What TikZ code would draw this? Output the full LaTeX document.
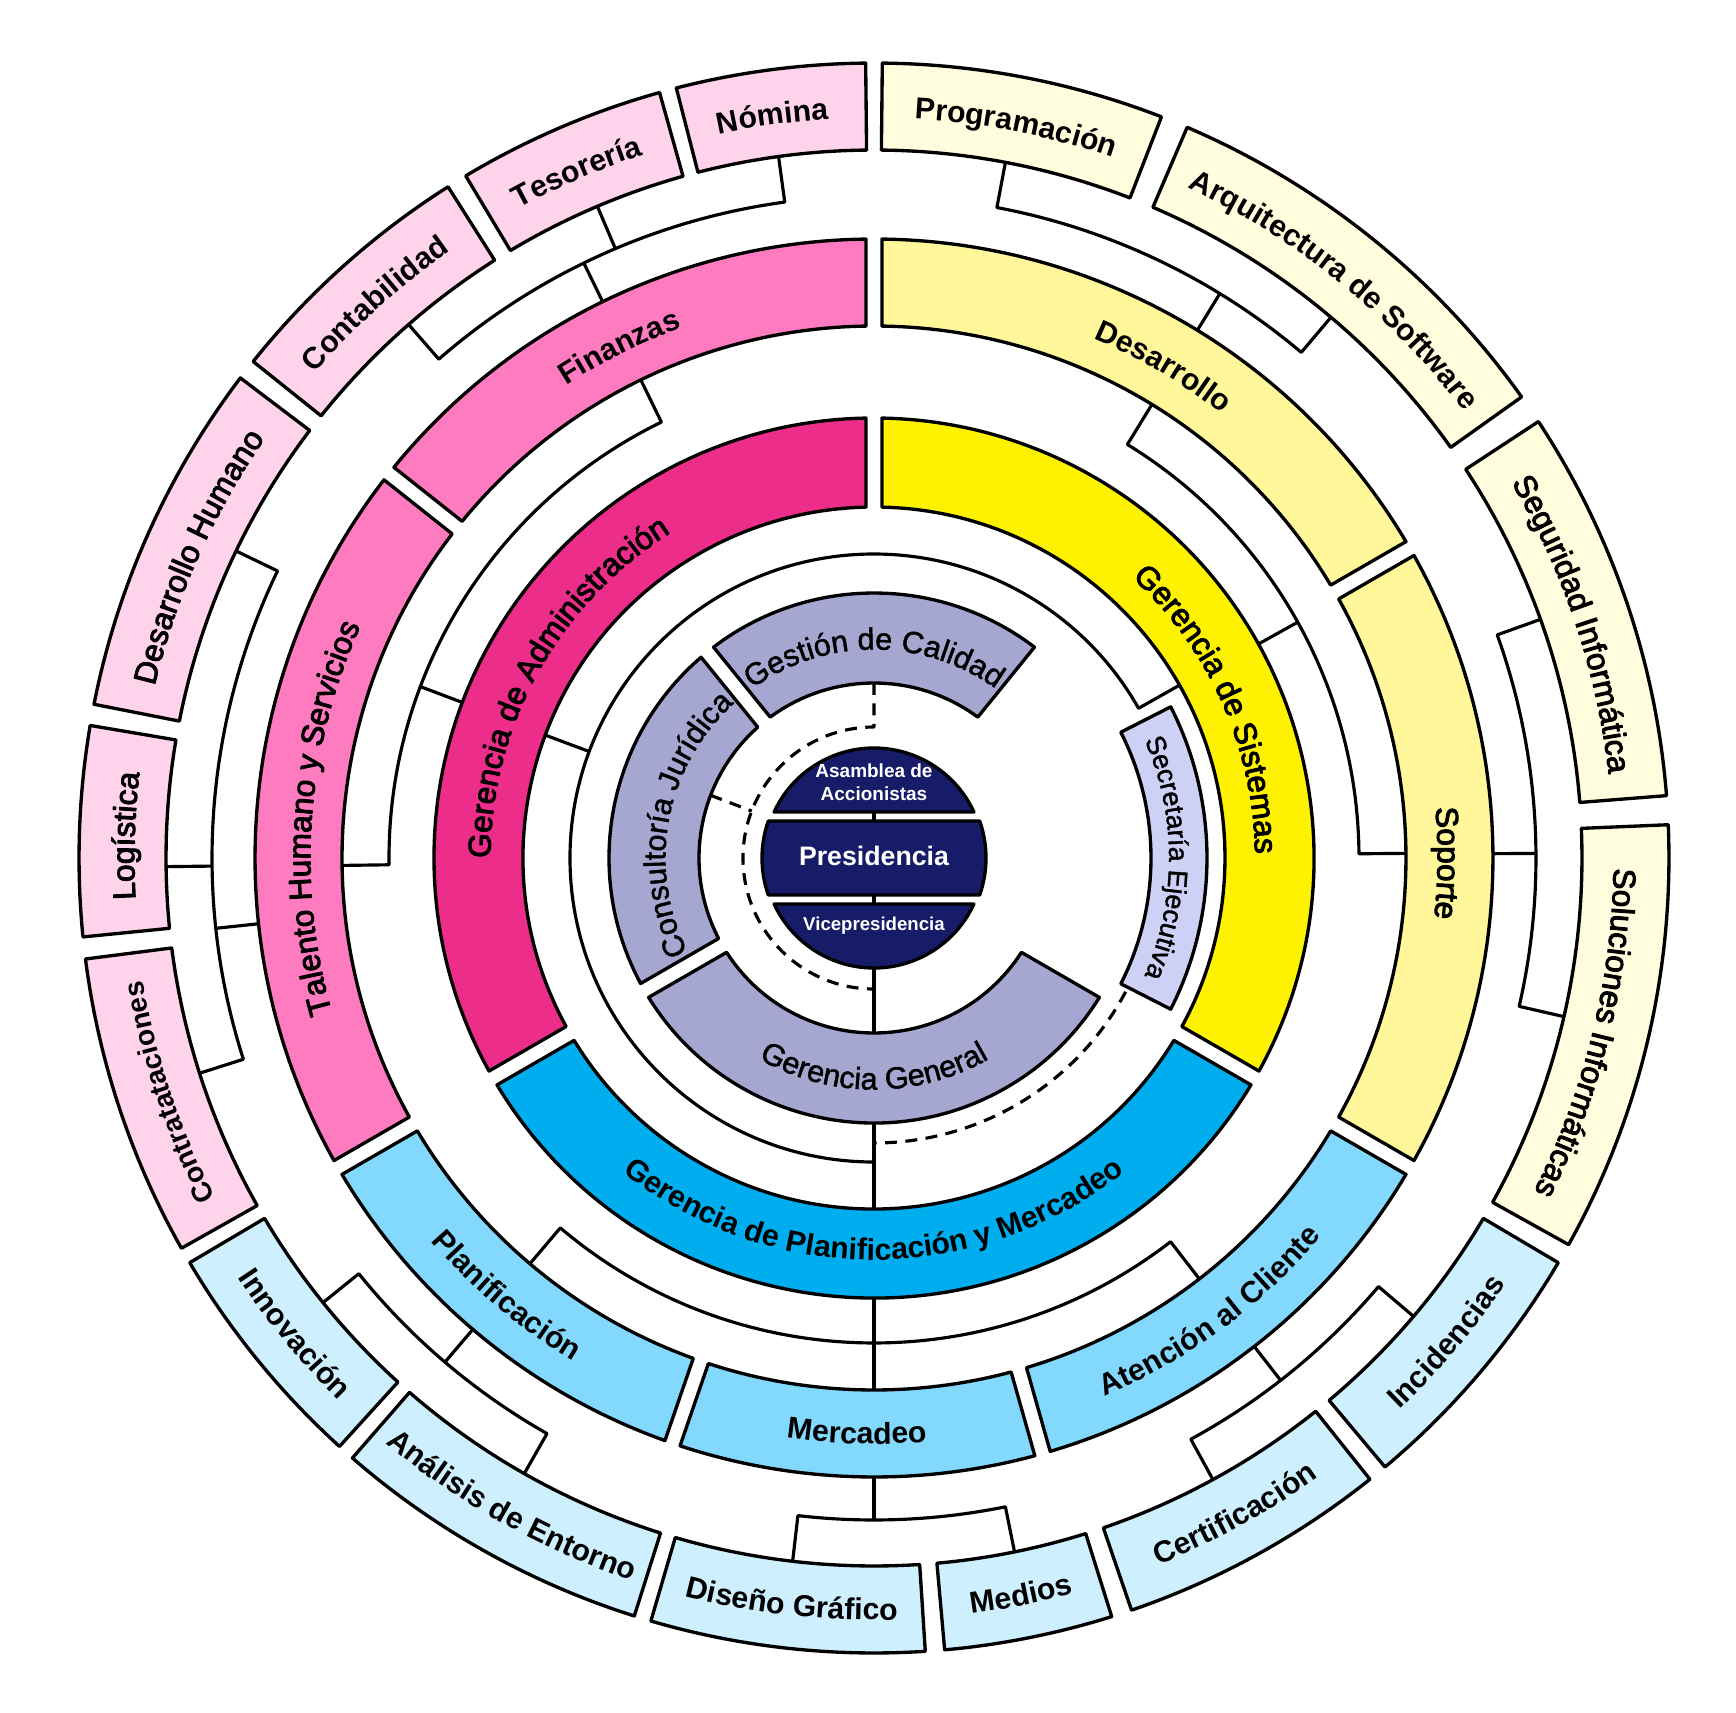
\documentclass[tikz,border=0pt]{standalone}
\usepackage{fontspec}
\setmainfont{Liberation Sans}
\newfontfamily\medfam[FakeBold=3]{Liberation Sans}
\newfontfamily\bookfam[FakeBold=1.5]{Liberation Sans}
\usetikzlibrary{decorations.text}

\definecolor{navy}{RGB}{22,28,104}
\definecolor{ringgray}{RGB}{165,167,208}
\definecolor{lavender}{RGB}{205,209,246}
\definecolor{admin}{RGB}{236,45,138}
\definecolor{sistemas}{RGB}{255,242,0}
\definecolor{planif}{RGB}{0,174,239}
\definecolor{pinkmid}{RGB}{255,123,192}
\definecolor{yellowmid}{RGB}{255,247,153}
\definecolor{cyanmid}{RGB}{130,217,253}
\definecolor{pinklight}{RGB}{255,211,234}
\definecolor{yellowlight}{RGB}{255,253,222}
\definecolor{cyanlight}{RGB}{205,239,254}

% label fonts
\newcommand\labR{\bookfam\fontsize{8.7pt}{11pt}\selectfont}
\newcommand\labM{\medfam\fontsize{9pt}{11pt}\selectfont}
\newcommand\labB{\fontsize{8.6pt}{10pt}\selectfont\bfseries}
\newcommand\labS{\bookfam\fontsize{7.7pt}{9pt}\selectfont}
\newcommand\labC{\fontsize{8pt}{9.5pt}\selectfont\bfseries}

% annular segment: [style]{inner r}{outer r}{start angle}{end angle}{half gap}
\newcommand\ringseg[6][]{%
  \pgfmathsetmacro\segAi{#4+asin(#6/#2)}%
  \pgfmathsetmacro\segAo{#4+asin(#6/#3)}%
  \pgfmathsetmacro\segBi{#5-asin(#6/#2)}%
  \pgfmathsetmacro\segBo{#5-asin(#6/#3)}%
  \draw[box,#1] (\segAi:#2) -- (\segAo:#3)
    arc[start angle=\segAo,end angle=\segBo,radius=#3]
    -- (\segBi:#2) arc[start angle=\segBi,end angle=\segAi,radius=#2] -- cycle;}

% curved labels: {font}{centre angle}{baseline radius}{text}
\newcommand\cwtext[4]{\path[decorate,decoration={text along path,text={|#1|#4},text align=center}]
  (#2+80:#3) arc[start angle=#2+80,end angle=#2-80,radius=#3];}
\newcommand\ccwtext[4]{\path[decorate,decoration={text along path,text={|#1|#4},text align=center}]
  (#2-80:#3) arc[start angle=#2-80,end angle=#2+80,radius=#3];}

\begin{document}
\begin{tikzpicture}[x=0.1mm,y=0.1mm,line join=round,
  box/.style={draw=black,line width=0.95pt},
  link/.style={draw=black,line width=0.9pt},
  dlink/.style={link,dash pattern=on 3.4pt off 2.4pt},
  navybox/.style={box,fill=navy}]

\fill[white] (-874,-854) rectangle (862,858);
\useasboundingbox (-874,-854) rectangle (862,858);

% ---------- connectors ----------
\draw[link] (0,50) -- (0,-175);
\draw[link] (270:265) -- (270:351);
\draw[link] (270:304) arc[start angle=270,end angle=29.5,radius=304] -- (29.5:351);
\draw[link] (159.5:304) -- (159.5:351);

\draw[dlink] (90:175) -- (90:131) arc[start angle=90,end angle=270,radius=131];
\draw[dlink] (159:175) -- (159:131);
\draw[dlink] (-28:285) arc[start angle=-28,end angle=-90,radius=285];

\draw[link] (159.3:440) -- (159.3:485);
\draw[link] (116:532) -- (116:485) arc[start angle=116,end angle=180.8,radius=485] -- (180.8:532);
\draw[link] (29.1:440) -- (29.1:485);
\draw[link] (58.5:532) -- (58.5:485) arc[start angle=58.5,end angle=0.5,radius=485] -- (0.5:532);
\draw[link] (270:440) -- (270:532);
\draw[link] (229.7:532) -- (229.7:485) arc[start angle=229.7,end angle=307.7,radius=485] -- (307.7:532);

\draw[link] (116:619) -- (116:662);
\draw[link] (97.75:708) -- (97.75:662) arc[start angle=97.75,end angle=131.1,radius=662] -- (131.1:708);
\draw[link] (113:662) -- (113:708);
\draw[link] (186.1:619) -- (186.1:662);
\draw[link] (154.3:708) -- (154.3:662) arc[start angle=154.3,end angle=197.7,radius=662] -- (197.7:708);
\draw[link] (180.7:662) -- (180.7:708);
\draw[link] (58.5:619) -- (58.5:662);
\draw[link] (79.3:708) -- (79.3:662) arc[start angle=79.3,end angle=49.8,radius=662] -- (49.8:708);
\draw[link] (0.4:619) -- (0.4:662);
\draw[link] (19.7:708) -- (19.7:662) arc[start angle=19.7,end angle=-12.95,radius=662] -- (-12.95:708);
\draw[link] (229.6:619) -- (229.6:662);
\draw[link] (218.9:708) -- (218.9:662) arc[start angle=218.9,end angle=240.4,radius=662] -- (240.4:708);
\draw[link] (270:619) -- (270:662);
\draw[link] (263.4:708) -- (263.4:662) arc[start angle=263.4,end angle=281.45,radius=662] -- (281.45:708);
\draw[link] (-52.1:619) -- (-52.1:662);
\draw[link] (-61.4:708) -- (-61.4:662) arc[start angle=-61.4,end angle=-40.35,radius=662] -- (-40.35:708);

% ---------- centre ----------
\draw[navybox] (24.7:110) arc[start angle=24.7,end angle=155.3,radius=110] -- cycle;
\draw[navybox] (-24.7:110) arc[start angle=-24.7,end angle=-155.3,radius=110] -- cycle;
\draw[navybox] (19.3:112) arc[start angle=19.3,end angle=-19.3,radius=112]
  -- (199.3:112) arc[start angle=199.3,end angle=160.7,radius=112] -- cycle;
\node[text=white,font=\fontsize{5.4pt}{6.5pt}\selectfont\bfseries,align=center] (asamblea) at (0,76) {Asamblea de\\Accionistas};
\node[text=white,font=\fontsize{7.6pt}{9pt}\selectfont\bfseries] (presidencia) at (0,2) {Presidencia};
\node[text=white,font=\fontsize{5.3pt}{6.5pt}\selectfont\bfseries] (vice) at (0,-68) {Vicepresidencia};

% ---------- ring 1 ----------
\ringseg[fill=ringgray]{175}{265}{51}{129}{8}
\ringseg[fill=ringgray]{175}{265}{129}{210}{8}
\ringseg[fill=ringgray]{175}{265}{210}{330}{8}
\ringseg[fill=lavender]{277}{333}{-27}{27}{0}

% ---------- ring 2 ----------
\ringseg[fill=admin]{351}{440}{90}{210}{8}
\ringseg[fill=sistemas]{351}{440}{-30}{90}{8}
\ringseg[fill=planif]{351}{440}{210}{330}{8}

% ---------- ring 3 ----------
\ringseg[fill=pinkmid]{532}{619}{90}{141.6}{8}
\ringseg[fill=pinkmid]{532}{619}{141.6}{210}{8}
\ringseg[fill=cyanmid]{532}{619}{210}{251}{8}
\ringseg[fill=cyanmid]{532}{619}{251}{285.8}{8}
\ringseg[fill=cyanmid]{532}{619}{285.8}{330}{8}
\ringseg[fill=yellowmid]{532}{619}{-30}{30}{8}
\ringseg[fill=yellowmid]{532}{619}{30}{90}{8}

% ---------- ring 4 ----------
\ringseg[fill=pinklight]{708}{795}{90.6}{104.4}{0}
\ringseg[fill=pinklight]{708}{795}{105.65}{120.9}{0}
\ringseg[fill=pinklight]{708}{795}{122.4}{141.35}{0}
\ringseg[fill=pinklight]{708}{795}{142.85}{168.85}{0}
\ringseg[fill=pinklight]{708}{795}{170.4}{185.7}{0}
\ringseg[fill=pinklight]{708}{795}{187.3}{209.4}{0}
\ringseg[fill=cyanlight]{708}{795}{210.6}{227.75}{0}
\ringseg[fill=cyanlight]{708}{795}{229}{252.45}{0}
\ringseg[fill=cyanlight]{708}{795}{253.7}{273.7}{0}
\ringseg[fill=cyanlight]{708}{795}{275.1}{287.4}{0}
\ringseg[fill=cyanlight]{708}{795}{288.9}{308.6}{0}
\ringseg[fill=cyanlight]{708}{795}{310}{329.4}{0}
\ringseg[fill=yellowlight]{708}{795}{330.9}{362.4}{0}
\ringseg[fill=yellowlight]{708}{795}{4.5}{33.3}{0}
\ringseg[fill=yellowlight]{708}{795}{35.45}{66.8}{0}
\ringseg[fill=yellowlight]{708}{795}{68.8}{89.4}{0}

% ---------- labels ----------
\cwtext{\labR}{90}{208.5}{Gestión de Calidad}
\cwtext{\labR}{169.5}{208.5}{Consultoría Jurídica}
\ccwtext{\labR}{270}{231.5}{Gerencia General}
\cwtext{\labS}{0}{295}{Secretaría Ejecutiva}

\cwtext{\labM}{151}{383.5}{Gerencia de Administración}
\cwtext{\labM}{24}{381}{Gerencia de Sistemas}
\ccwtext{\labB}{270}{402}{Gerencia de Planificación y Mercadeo}

\cwtext{\labB}{116.5}{564}{Finanzas}
\cwtext{\labB}{59.5}{564}{Desarrollo}
\cwtext{\labM}{-0.5}{563.5}{Soporte}
\cwtext{\labM}{175.8}{563.5}{Talento Humano y Servicios}
\ccwtext{\labB}{230}{586}{Planificación}
\ccwtext{\labB}{268.3}{586}{Mercadeo}
\ccwtext{\labB}{-53.5}{586}{Atención al Cliente}

\cwtext{\labB}{97.8}{740}{Nómina}
\cwtext{\labB}{113.4}{740}{Tesorería}
\cwtext{\labB}{132}{740}{Contabilidad}
\cwtext{\labM}{156}{739.5}{Desarrollo Humano}
\cwtext{\labM}{178.3}{739.5}{Logística}
\cwtext{\labC}{198.4}{741}{Contratataciones}
\ccwtext{\labB}{219.4}{762}{Innovación}
\ccwtext{\labB}{240.8}{762}{Análisis de Entorno}
\ccwtext{\labB}{263.7}{762}{Diseño Gráfico}
\ccwtext{\labB}{281.3}{762}{Medios}
\ccwtext{\labB}{298.8}{762}{Certificación}
\ccwtext{\labB}{319.8}{762}{Incidencias}
\cwtext{\labM}{-13.8}{739.5}{Soluciones Informáticas}
\cwtext{\labM}{18.5}{739.5}{Seguridad Informática}
\cwtext{\labB}{51}{740}{Arquitectura de Software}
\cwtext{\labB}{79}{740}{Programación}

\end{tikzpicture}
\end{document}
